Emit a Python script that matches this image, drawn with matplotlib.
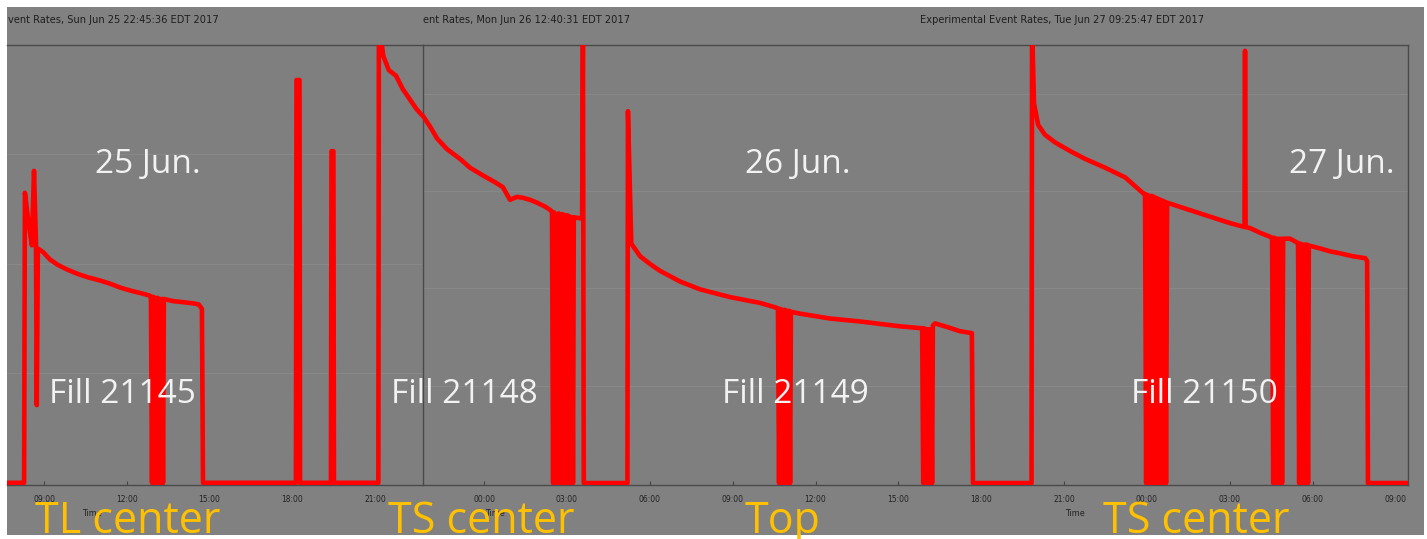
import numpy as np
import matplotlib.pyplot as plt
from matplotlib.patches import Rectangle
from matplotlib.ticker import FixedLocator, FuncFormatter

# event rate traces, time in hours counted from Jun 25 00:00
p1_hours = [7.65, 8.27, 8.30, 8.42, 8.55, 8.63, 8.70, 8.73, 8.77, 8.95, 9.21, 9.50, 9.82,
            10.20, 10.55, 11.00, 11.38, 11.80, 12.22, 12.55, 12.83,
            12.87, 12.91, 12.95, 12.99, 13.03, 13.07, 13.11, 13.15, 13.19, 13.23, 13.27, 13.31, 13.34,
            13.67, 14.05, 14.39, 14.60, 14.72, 14.76, 18.13, 18.15, 18.26, 18.28,
            19.40, 19.42, 19.49, 19.51,
            21.12, 21.14, 21.22, 21.30, 21.50, 21.76, 22.00, 22.27, 22.52, 22.74]
p1_rate = [0, 0, 2.65, 2.40, 2.17, 2.85, 2.20, 0.71, 2.14, 2.11, 2.04, 1.99, 1.95,
           1.91, 1.88, 1.85, 1.82, 1.78, 1.75, 1.73, 1.71,
           1.70, 0, 1.70, 0, 1.69, 0, 1.69, 0, 1.68, 0, 1.68, 0, 1.68,
           1.66, 1.65, 1.64, 1.63, 1.59, 0, 0, 3.68, 3.68, 0,
           0, 3.03, 3.03, 0,
           0, 4.3, 4.05, 3.90, 3.77, 3.72, 3.60, 3.50, 3.41, 3.35]

p2_hours = [21.79, 22.05, 22.30, 22.66, 23.13, 23.49, 23.96, 24.40, 24.68, 24.94, 25.19,
            25.41, 25.66, 25.92, 26.21, 26.42,
            26.46, 26.50, 26.54, 26.58, 26.62, 26.66, 26.70, 26.74, 26.78, 26.82, 26.86,
            26.90, 26.94, 26.98, 27.02, 27.06, 27.10, 27.14, 27.18, 27.22, 27.25,
            27.48, 27.55, 27.58, 27.61, 29.19, 29.21, 29.33, 29.65, 30.01, 30.37, 31.10, 31.82,
            32.91, 34.00, 34.60,
            34.64, 34.68, 34.72, 34.76, 34.80, 34.84, 34.88, 34.92, 34.96, 35.00, 35.04, 35.08, 35.11,
            35.44, 36.53, 37.61, 39.06, 39.82,
            39.86, 39.90, 39.94, 39.98, 40.02, 40.06, 40.10, 40.14, 40.18, 40.22, 40.25,
            40.33, 40.80, 41.23, 41.66, 41.70, 43.82, 43.84, 43.91, 44.06, 44.30, 44.67,
            45.22, 45.76, 46.48, 47.21, 47.57, 47.89,
            47.93, 47.97, 48.01, 48.05, 48.09, 48.13, 48.17, 48.21, 48.25, 48.29, 48.33,
            48.37, 48.41, 48.45, 48.49, 48.53, 48.57, 48.61, 48.65, 48.69, 48.73,
            48.84, 49.38, 49.92, 50.47, 51.01, 51.53, 51.55, 51.57, 51.73, 52.10, 52.46, 52.50,
            52.53, 52.57, 52.61, 52.65, 52.69, 52.73, 52.77, 52.81, 52.85, 52.89, 52.93,
            53.18, 53.44,
            53.47, 53.51, 53.55, 53.59, 53.63, 53.67, 53.71, 53.75, 53.79, 53.83, 53.86,
            54.27, 54.63, 54.99, 55.45, 55.90, 55.97, 56.00, 57.45]
p2_rate = [3.77, 3.66, 3.54, 3.43, 3.33, 3.24, 3.16, 3.09, 3.04, 2.91, 2.94,
           2.93, 2.91, 2.88, 2.84, 2.80,
           2.78, 0, 2.78, 0, 2.60, 0, 2.77, 0, 2.76, 0, 2.76,
           0, 2.75, 0, 2.75, 0, 2.74, 0, 2.73, 0, 2.73,
           2.72, 2.72, 4.7, 0, 0, 3.82, 2.46, 2.33, 2.25, 2.18, 2.07, 1.99,
           1.91, 1.85, 1.80,
           1.79, 0, 1.79, 0, 1.78, 0, 1.78, 0, 1.77, 0, 1.77, 0, 1.76,
           1.74, 1.69, 1.66, 1.61, 1.59,
           1.59, 0, 1.59, 0, 1.58, 0, 1.58, 0, 1.58, 0, 1.62,
           1.64, 1.60, 1.56, 1.54, 0, 0, 4.7, 3.90, 3.68, 3.58, 3.50,
           3.41, 3.33, 3.24, 3.14, 3.05, 2.97,
           2.97, 0, 2.96, 0, 2.95, 0, 2.95, 0, 2.94, 0, 2.93,
           0, 2.92, 0, 2.91, 0, 2.90, 0, 2.89, 0, 2.88,
           2.87, 2.82, 2.77, 2.72, 2.67, 2.63, 4.44, 2.63, 2.62, 2.57, 2.53, 2.52,
           2.52, 0, 2.52, 0, 2.51, 0, 2.51, 0, 2.51, 0, 2.51,
           2.51, 2.47,
           2.46, 0, 2.46, 0, 2.45, 0, 2.45, 0, 2.45, 0, 2.44,
           2.41, 2.38, 2.36, 2.33, 2.31, 2.28, 0, 0]

p1_ticks = [9, 12, 15, 18, 21]
p2_ticks = [24, 27, 30, 33, 36, 39, 42, 45, 48, 51, 54, 57]

titles = ["vent Rates, Sun Jun 25 22:45:36 EDT 2017",
          "ent Rates, Mon Jun 26 12:40:31 EDT 2017",
          "Experimental Event Rates, Tue Jun 27 09:25:47 EDT 2017"]
days = ["25 Jun.", "26 Jun.", "27 Jun."]
fills = ["Fill 21145", "Fill 21148", "Fill 21149", "Fill 21150"]
positions = ["TL center", "TS center", "Top", "TS center"]

W, H = 1427, 539
BG = "#7f7f7f"
fig = plt.figure(figsize=(W / 100, H / 100), dpi=100)


def fx(px):
    return px / W


def fy(py):
    return 1 - py / H


def axes_px(left, top, right, bottom):
    return fig.add_axes([fx(left), fy(bottom), (right - left) / W, (bottom - top) / H])


fig.patches.append(Rectangle((fx(7), fy(535)), (1424 - 7) / W, (535 - 7) / H,
                             transform=fig.transFigure, facecolor="#818181",
                             edgecolor="none", zorder=-10))

hour_fmt = FuncFormatter(lambda h, pos: "%02d:00" % (int(round(h)) % 24))

ax1 = axes_px(7, 45, 423, 485)
ax2 = axes_px(423, 45, 1408, 485)

for ax, hrs, rate, ticks, xlim, ytop in [
        (ax1, p1_hours, p1_rate, p1_ticks, (7.65, 22.74), 4.0),
        (ax2, p2_hours, p2_rate, p2_ticks, (21.79, 57.45), 4.5)]:
    ax.set_facecolor(BG)
    ax.plot(hrs, rate, color="#ff0000", lw=3.3, solid_joinstyle="round", zorder=3)
    ax.set_xlim(*xlim)
    ax.set_ylim(-0.02, ytop)
    ax.xaxis.set_major_locator(FixedLocator(ticks))
    ax.xaxis.set_major_formatter(hour_fmt)
    ax.set_yticks([1, 2, 3, 4])
    ax.yaxis.set_ticklabels([])
    ax.tick_params(axis="y", length=0)
    ax.tick_params(axis="x", direction="in", length=3, width=0.8, color="#444444",
                   pad=7, labelsize=5.5, labelcolor="#222222")
    ax.grid(axis="y", color="#888888", lw=0.8)
    for s in ax.spines.values():
        s.set_color("#4a4a4a")
        s.set_linewidth(1.0)

ax1.spines["left"].set_visible(False)
ax1.spines["right"].set_visible(False)

# panel headers and axis names
for x, t in zip([8, 423, 920], titles):
    fig.text(fx(x), fy(20), t, fontsize=7.1, color="#1e1e1e", ha="left", va="center")
for x in [92, 495, 1075]:
    fig.text(fx(x), fy(513), "Time", fontsize=5.8, color="#222222", ha="center", va="center")

# annotations
for x, d in zip([148, 798, 1342], days):
    fig.text(fx(x), fy(173), d, fontsize=24, family="Open Sans", color="#f2f2f2",
             ha="center", va="baseline")
for x, f in zip([122, 464, 795, 1204], fills):
    fig.text(fx(x), fy(403), f, fontsize=24, family="Open Sans", color="#f2f2f2",
             ha="center", va="baseline")
for x, p in zip([35, 388, 745, 1103], positions):
    fig.text(fx(x), fy(533), p, fontsize=31, family="Open Sans", color="#ffc000",
             ha="left", va="baseline")

fig.savefig("out.png", dpi=100, facecolor="white")
